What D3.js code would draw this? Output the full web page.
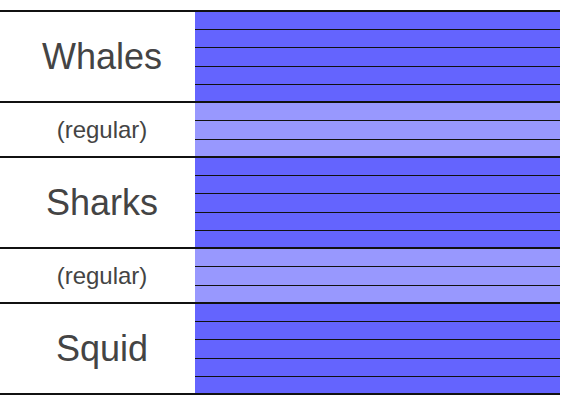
<!DOCTYPE html>
<html><head><meta charset="utf-8">
<script src="https://cdn.jsdelivr.net/npm/d3@7"></script>
<style>body{margin:0;background:#fff}</style>
</head><body><div id="chart"></div>
<script>
var labels = ['Whales', '(regular)', 'Sharks', '(regular)', 'Squid'];
var rowCounts = [5, 3, 5, 3, 5];
var isMajor = [true, false, true, false, true];

var svg = d3.select("#chart").append("svg").attr("width", 572).attr("height", 407);

var stripes = [];
var groups = [];
var k = 0;
labels.forEach(function(l, g) {
    groups.push({label: l, start: k, end: k + rowCounts[g], major: isMajor[g]});
    for (var i = 0; i < rowCounts[g]; i++) { stripes.push({idx: k, major: isMajor[g], first: i == 0}); k++; }
});

var y = d3.scaleLinear().domain([0, k]).range([11, 394]);
var x0 = 195, x1 = 560;

// one rect per group, no gaps between stripes
svg.selectAll("rect.grp").data(groups).enter().append("rect")
    .attr("x", x0).attr("width", x1 - x0)
    .attr("y", function(d) { return y(d.start); })
    .attr("height", function(d) { return y(d.end) - y(d.start); })
    .attr("fill", function(d) { return d.major ? "#6464fe" : "#9898fe"; });

svg.selectAll("line.stripe").data(stripes.filter(function(d) { return !d.first; })).enter().append("line")
    .attr("x1", x0).attr("x2", x1)
    .attr("y1", function(d) { return Math.round(y(d.idx)) + 0.5; })
    .attr("y2", function(d) { return Math.round(y(d.idx)) + 0.5; })
    .attr("stroke", "#111").attr("stroke-width", 1);

var bounds = groups.map(function(g) { return g.start; }).concat([k]);
svg.selectAll("line.group").data(bounds).enter().append("line")
    .attr("x1", 0).attr("x2", x1)
    .attr("y1", function(d) { return Math.round(y(d)); })
    .attr("y2", function(d) { return Math.round(y(d)); })
    .attr("stroke", "#111").attr("stroke-width", 2);

svg.selectAll("text.label").data(groups).enter().append("text")
    .attr("x", 102)
    .attr("y", function(d) { return (y(d.start) + y(d.end)) / 2; })
    .attr("text-anchor", "middle").attr("dominant-baseline", "central")
    .attr("font-family", "Arial, 'Liberation Sans', sans-serif")
    .attr("font-size", function(d) { return d.major ? 36 : 24; })
    .attr("fill", "#444")
    .text(function(d) { return d.label; });
</script></body></html>
